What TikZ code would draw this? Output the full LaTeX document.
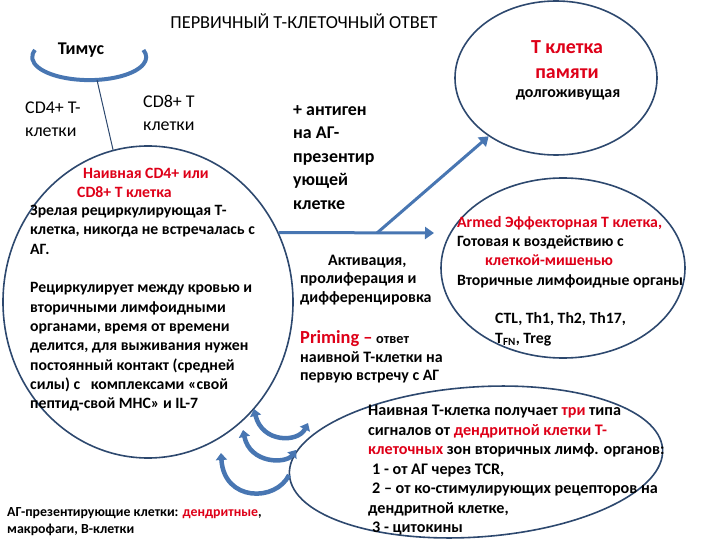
\documentclass[tikz,border=0pt]{standalone}
\usepackage{fontspec}
\setmainfont{Carlito}
\usepackage{xcolor}
\usetikzlibrary{arrows.meta,shapes.geometric,positioning}
\definecolor{cellline}{RGB}{45,72,110}
\definecolor{flowblue}{RGB}{72,118,178}
\definecolor{tred}{RGB}{222,0,24}
\newcommand{\hl}[1]{\textcolor{tred}{#1}}

\begin{document}
\begin{tikzpicture}[x=1bp, y=-1bp,
  cell/.style={draw=cellline, line width=1.6bp, ellipse, inner sep=0pt},
  flow/.style={draw=flowblue, line width=3bp, -{Triangle[width=12bp,length=9bp]}},
  swing/.style={draw=flowblue, line width=4.5bp, >={Triangle[width=11bp,length=7bp]}},
  body/.style={anchor=north west, align=left, inner sep=0pt, font=\bfseries\fontsize{15.8}{19.4}\selectfont},
  plain/.style={anchor=north west, align=left, inner sep=0pt, font=\fontsize{18}{23}\selectfont}]
\useasboundingbox (0,0) rectangle (720,540);

\node[cell, minimum width=290bp, minimum height=312bp] (naive) at (148,302) {};
\node[cell, minimum width=202bp, minimum height=154bp] (mem) at (556,78) {};
\node[cell, minimum width=244bp, minimum height=180bp] (eff) at (563,268) {};
\node[cell, minimum width=374bp, minimum height=150bp, rotate=4] (signal) at (476,462) {};

\node[font=\fontsize{18.4}{21}\selectfont] (title) at (304,21) {ПЕРВИЧНЫЙ Т-КЛЕТОЧНЫЙ ОТВЕТ};

\node[font=\bfseries\fontsize{18}{21}\selectfont] (thymus) at (81,50) {Тимус};
\draw[draw=flowblue, line width=4bp] (35,50) arc[start angle=198, end angle=-18, x radius=57, y radius=23];
\coordinate (thybottom) at (97,80);
\draw[cellline, line width=1bp] (thybottom) -- (naive);
\node[plain] (cdfour) at (25,102) {CD4+ T-\\клетки};
\node[plain] (cdeight) at (143,95) {CD8+ T\\клетки};

\node[body, text=tred] (naivehead) at (83,168) {Наивная CD4+ или};
\node[body, text=tred] (naivesub) at (77,186) {CD8+ Т клетка};
\node[body] (naivetext) at (30,205) {Зрелая рециркулирующая Т-\\клетка, никогда не встречалась с\\АГ.\\[19.4bp]Рециркулирует между кровью и\\вторичными лимфоидными\\органами, время от времени\\делится, для выживания нужен\\постоянный контакт (средней\\силы) с\ \ \ комплексами «свой\\пептид-свой МНС» и IL-7};

\node[body, font=\bfseries\fontsize{18}{23.6}\selectfont] (antigen) at (293,105) {+ антиген\\на АГ-\\презентир\\ующей\\клетке};

\coordinate (branch) at (377,233);
\coordinate (hend) at (434,233);
\draw[flow] (naive.28) -- (hend);
\draw[flow] (branch) -- (mem);

\node[body, font=\bfseries\fontsize{16}{18.5}\selectfont] (activ) at (300,255) {\hspace*{28bp}Активация,\\пролиферация и\\дифференцировка};
\node[body, font=\bfseries\fontsize{16}{19}\selectfont] (priming) at (300,330) {\hl{\fontsize{18.5}{19}\selectfont Priming –} {\fontsize{14.3}{19}\selectfont ответ}\\наивной Т-клетки на\\первую встречу с АГ};

\node[body, text=tred, font=\bfseries\fontsize{20}{25}\selectfont, align=center, anchor=north] (memtitle) at (567,40) {Т клетка\\памяти};
\node[body, font=\bfseries\fontsize{16}{18}\selectfont, anchor=north] (memlong) at (568,89) {долгоживущая};

\node[body] (efftext) at (457,216) {\hl{Armed Эффекторная Т клетка,}\\Готовая к воздействию с\\\hspace*{28bp}\hl{клеткой-мишенью}\\Вторичные лимфоидные органы\\[19.4bp]\hspace*{38bp}CTL, Th1, Th2, Th17,\\\hspace*{38bp}T\textsubscript{FN}, Treg};

\node[body, font=\bfseries\fontsize{16.2}{19.6}\selectfont] (signaltext) at (368,405) {Наивная Т-клетка получает \hl{три} типа\\сигналов от \hl{дендритной клетки Т-}\\\hl{клеточных} зон вторичных лимф. органов:\\\hspace*{4bp}1 - от АГ через TCR,\\\hspace*{4bp}2 – от ко-стимулирующих рецепторов на\\дендритной клетке,\\\hspace*{4bp}3 - цитокины};

\node[body, font=\bfseries\fontsize{13.9}{17.5}\selectfont] (apc) at (7,507) {АГ-презентирующие клетки: \hl{дендритные},\\макрофаги, В-клетки};

\coordinate (sigonea) at (254,409);
\coordinate (sigoneb) at (308,423);
\coordinate (sigtwoa) at (243,430);
\coordinate (sigtwob) at (296,450);
\coordinate (sigthreea) at (221,453);
\coordinate (sigthreeb) at (289,475);
\draw[swing, <->] (sigonea) .. controls (262,443) and (298,443) .. (sigoneb);
\draw[swing, <->] (sigtwoa) .. controls (250,464) and (286,464) .. (sigtwob);
\draw[swing, ->] (sigthreeb) .. controls (276,502) and (224,502) .. (sigthreea);
\end{tikzpicture}
\end{document}
